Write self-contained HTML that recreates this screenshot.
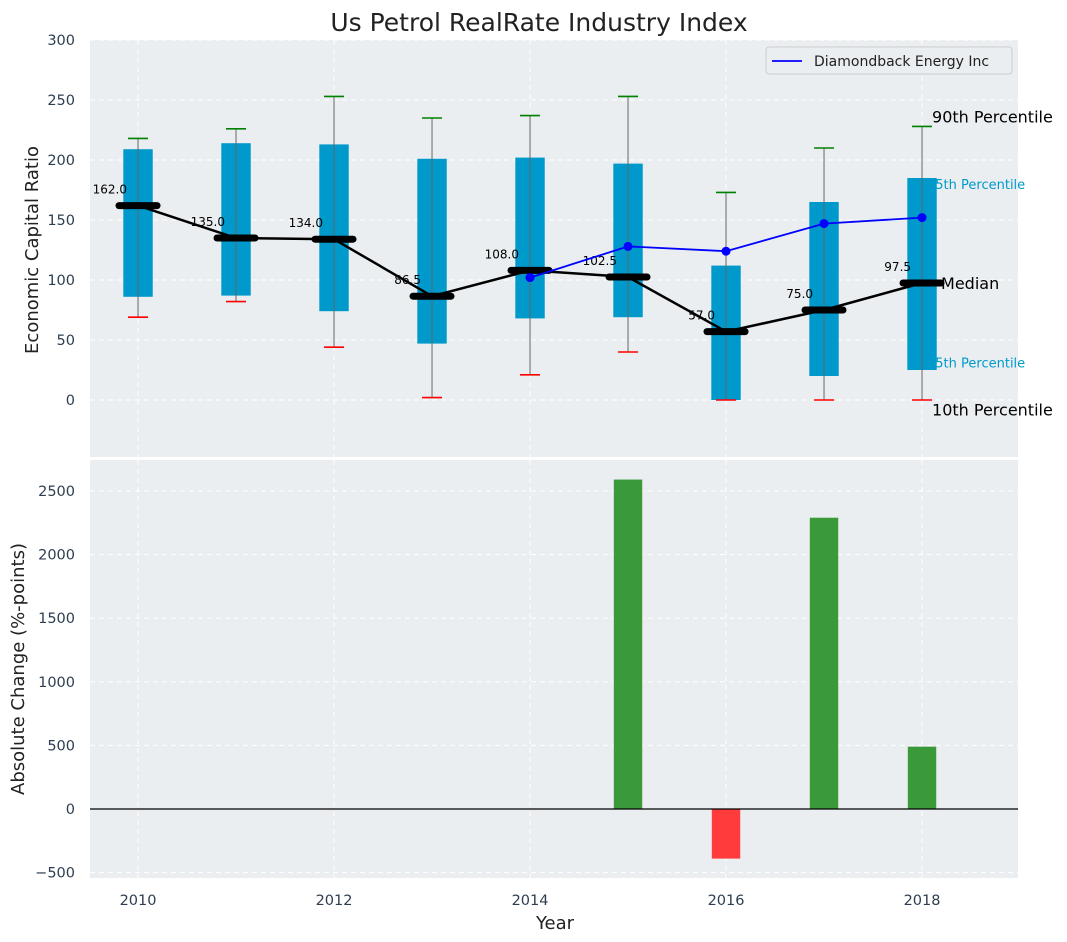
<!DOCTYPE html>
<html><head><meta charset="utf-8"><style>
body{margin:0;background:#fff;}
svg{display:block;font-family:"DejaVu Sans","Liberation Sans",sans-serif;}
</style></head><body>
<svg id="c" width="1067" height="942"></svg>
<script>
const years=[2010,2011,2012,2013,2014,2015,2016,2017,2018];
const p90=[218,226,253,235,237,253,173,210,228];
const p75=[209,214,213,201,202,197,112,165,185];
const p25=[86,87,74,47,68,69,0,20,25];
const p10=[69,82,44,2,21,40,0,0,0];
const medians=[162,135,134,86.5,108,102.5,57,75,97.5];
const companyYears=[2014,2015,2016,2017,2018];
const companyValues=[102,128,124,147,152];
const changeYears=[2015,2016,2017,2018];
const changeValues=[2590,-390,2290,490];
const topTicks=[0,50,100,150,200,250,300];
const bottomTicks=[-500,0,500,1000,1500,2000,2500];
const xTicks=[2010,2012,2014,2016,2018];

const NS='http://www.w3.org/2000/svg';
const svg=document.getElementById('c');
function el(t,a,p){const e=document.createElementNS(NS,t);for(const k in a)e.setAttribute(k,a[k]);(p||svg).appendChild(e);return e;}
function tx(x,y,s,a,p){const e=el('text',a,p);e.setAttribute('x',x);e.setAttribute('y',y);e.textContent=s;return e;}
const X=v=>90+(v-2009.51)*98;
const L=90,R=1018;
const Y1=v=>400-v*1.2;
const Y2=v=>809-v*0.1272;
const TC='#2d3e50';

const t=tx(539,31,'Us Petrol RealRate Industry Index',{'text-anchor':'middle','font-size':'25','fill':'#222'});


const g1=el('g',{});
el('rect',{x:L,y:40,width:R-L,height:417,fill:'#eaeef0'},g1);
topTicks.forEach(v=>{
  el('line',{x1:L,x2:R,y1:Y1(v),y2:Y1(v),stroke:'#fff','stroke-dasharray':'5,4','stroke-width':1},g1);
  const l=tx(75,Y1(v)+5,String(v),{'text-anchor':'end','font-size':'14.5',fill:TC},g1);
  
});
xTicks.forEach(v=>el('line',{x1:X(v),x2:X(v),y1:40,y2:457,stroke:'#fff','stroke-dasharray':'5,4'},g1));
const n=years.length-1, xl=X(years[n]);
[['90th Percentile',p90[n]+8,'#000',16,xl+10],['75th Percentile',p75[n]-5,'#0099cc',13,xl+5],['Median',medians[n],'#000',16,xl+19],['25th Percentile',p25[n]+6,'#0099cc',13,xl+5],['10th Percentile',p10[n]-8,'#000',16,xl+10]].forEach(a=>{
  const e=tx(a[4],Y1(a[1])+a[3]*0.37,a[0],{'font-size':a[3],fill:a[2]},g1);
  
});
years.forEach((y,i)=>{
  const cx=X(y),w=0.3*98;
  const b=el('rect',{x:cx-w/2,y:Y1(p75[i]),width:w,height:Y1(p25[i])-Y1(p75[i]),fill:'#0099cc'},g1);
  
  el('line',{x1:cx,x2:cx,y1:Y1(p10[i]),y2:Y1(p90[i]),stroke:'#666','stroke-width':1},g1);
  el('line',{x1:cx-10,x2:cx+10,y1:Y1(p90[i]),y2:Y1(p90[i]),stroke:'green','stroke-width':1.6},g1);
  el('line',{x1:cx-10,x2:cx+10,y1:Y1(p10[i]),y2:Y1(p10[i]),stroke:'red','stroke-width':1.6},g1);
});
el('polyline',{points:years.map((y,i)=>X(y)+','+Y1(medians[i])).join(' '),fill:'none',stroke:'#000','stroke-width':2.5},g1);
years.forEach((y,i)=>{
  const m=el('line',{x1:X(y)-19,x2:X(y)+19,y1:Y1(medians[i]),y2:Y1(medians[i]),stroke:'#000','stroke-width':7,'stroke-linecap':'round'},g1);
  
  const l=tx(X(y)-11,Y1(medians[i])-12,medians[i].toFixed(1),{'text-anchor':'end','font-size':'12',fill:'#000'},g1);
  
});
el('polyline',{points:companyYears.map((y,i)=>X(y)+','+Y1(companyValues[i])).join(' '),fill:'none',stroke:'#0000ff','stroke-width':1.8},g1);
companyYears.forEach((y,i)=>{const c=el('circle',{cx:X(y),cy:Y1(companyValues[i]),r:4.5,fill:'#0000ff'},g1);});
const lg=el('g',{},g1);
el('rect',{x:766,y:47,width:246,height:27,rx:3,fill:'#eaeef0',stroke:'#ccc'},lg);
el('line',{x1:772,x2:802,y1:61,y2:61,stroke:'#0000ff','stroke-width':1.8},lg);
tx(814,66,'Diamondback Energy Inc',{'font-size':'14',fill:'#222'},lg);
const yl1=tx(0,0,'Economic Capital Ratio',{'font-size':'18',fill:'#222','text-anchor':'middle',transform:'translate(38,250) rotate(-90)'});


const g2=el('g',{});
el('rect',{x:L,y:460,width:R-L,height:418,fill:'#eaeef0'},g2);
bottomTicks.forEach(v=>{
  el('line',{x1:L,x2:R,y1:Y2(v),y2:Y2(v),stroke:'#fff','stroke-dasharray':'5,4'},g2);
  const l=tx(75,Y2(v)+5,String(v).replace('-','−'),{'text-anchor':'end','font-size':'14.5',fill:TC},g2);
  
});
xTicks.forEach(v=>{
  el('line',{x1:X(v),x2:X(v),y1:460,y2:878,stroke:'#fff','stroke-dasharray':'5,4'},g2);
  const l=tx(X(v),905,String(v),{'text-anchor':'middle','font-size':'14.5',fill:TC},g2);
  
});
changeYears.forEach((y,i)=>{
  const v=changeValues[i],w=0.29*98;
  const b=el('rect',{x:X(y)-w/2,y:Math.min(Y2(v),Y2(0)),width:w,height:Math.abs(Y2(v)-Y2(0)),fill:v>=0?'#3a9a3a':'#ff3b3b'},g2);
  
});
el('line',{x1:L,x2:R,y1:Y2(0),y2:Y2(0),stroke:'#000','stroke-width':1.2},g2);
const yl2=tx(0,0,'Absolute Change (%-points)',{'font-size':'18',fill:'#222','text-anchor':'middle',transform:'translate(24,669) rotate(-90)'});

const xl2=tx(555,929,'Year',{'font-size':'18',fill:'#222','text-anchor':'middle'});

</script>
</body></html>
